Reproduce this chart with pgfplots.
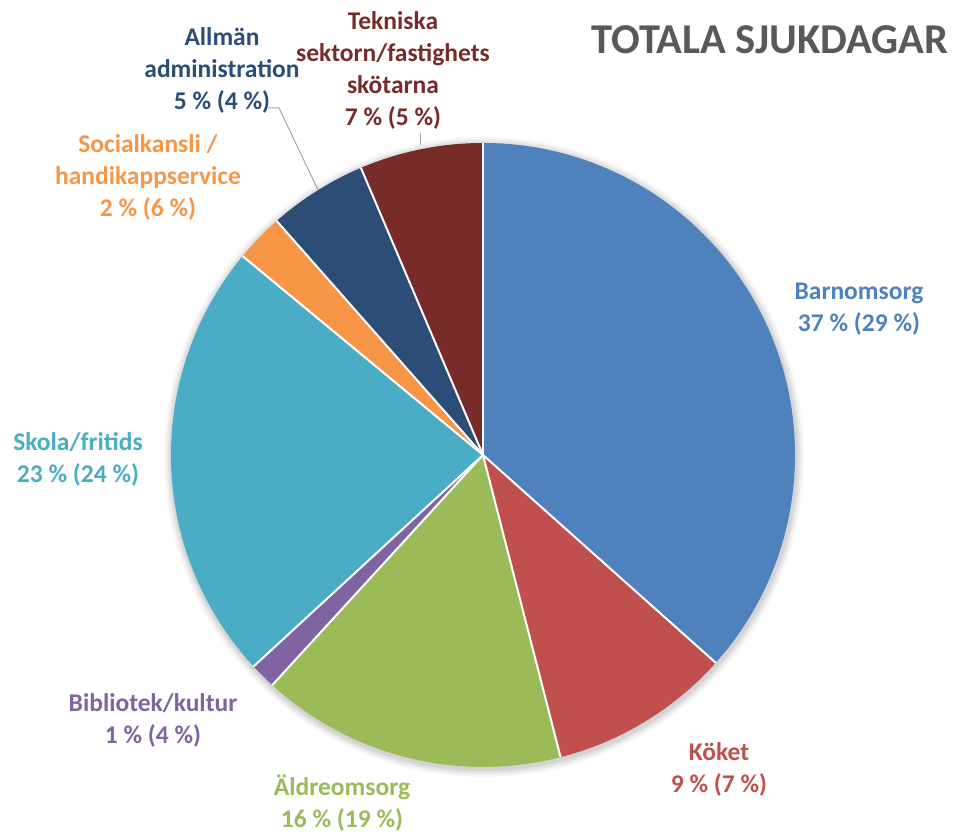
\documentclass[border=0pt]{standalone}
\usepackage{pgfplots}
\pgfplotsset{compat=1.18}
\usepackage{fontspec}
\setmainfont{Carlito}
\definecolor{cBarn}{HTML}{4F81BD}
\definecolor{cKok}{HTML}{C0504D}
\definecolor{cAld}{HTML}{9BBB59}
\definecolor{cBib}{HTML}{8064A2}
\definecolor{cSko}{HTML}{4BACC6}
\definecolor{cSoc}{HTML}{F79646}
\definecolor{cAll}{HTML}{2C4D75}
\definecolor{cTek}{HTML}{772C2A}
\definecolor{cTitle}{HTML}{595959}
\definecolor{cLead}{HTML}{A6A6A6}
\tikzset{lbl/.style={font=\fontsize{25.5bp}{32bp}\selectfont\bfseries,align=center,inner sep=0pt}}
\xdef\startp{0}
\newcommand\slice[2]{%
  \pgfmathsetmacro\endp{\startp+#1}%
  \edef\temp{\noexpand\fill[#2] (axis cs:483,379) -- ++({90-3.6*\startp}:312bp) arc[start angle={90-3.6*\startp}, end angle={90-3.6*\endp}, radius=312bp] -- cycle;}%
  \temp
  \xdef\startp{\endp}}
\xdef\bstart{0}
\newcommand\border[1]{%
  \pgfmathsetmacro\bend{\bstart+#1}%
  \edef\temp{\noexpand\draw[white,line width=2bp] (axis cs:483,379) -- ++({90-3.6*\bstart}:312bp);}%
  \temp
  \xdef\bstart{\bend}}
\begin{document}
\begin{tikzpicture}
\begin{axis}[x=1bp,y=1bp,xmin=0,xmax=954,ymin=0,ymax=834,hide axis,scale only axis,clip=false]
\addplot[draw=none] coordinates {(0,0) (954,834)};
% soft shadow
\fill[black,opacity=0.03] (axis cs:484,377) circle[radius=320bp];
\fill[black,opacity=0.04] (axis cs:484,377) circle[radius=318bp];
\fill[black,opacity=0.05] (axis cs:484,377) circle[radius=316bp];
\fill[black,opacity=0.06] (axis cs:484,377) circle[radius=314bp];
% shares in percent, clockwise from top
\slice{36.6}{cBarn}
\slice{9.4}{cKok}
\slice{15.8}{cAld}
\slice{1.35}{cBib}
\slice{22.85}{cSko}
\slice{2.5}{cSoc}
\slice{5.1}{cAll}
\slice{6.4}{cTek}
\border{36.6}\border{9.4}\border{15.8}\border{1.35}\border{22.85}\border{2.5}\border{5.1}\border{6.4}
% leader lines
\addplot[cLead,line width=1bp,no marks] coordinates {(268,726) (279,726) (318,644)};
\addplot[cLead,line width=1bp,no marks] coordinates {(420,701) (420,689)};
% labels
\node[lbl,text=cBarn] at (axis cs:859,525) {Barnomsorg\\37 \% (29 \%)};
\node[lbl,text=cKok] at (axis cs:719,65) {Köket\\9 \% (7 \%)};
\node[lbl,text=cAld] at (axis cs:342,31) {Äldreomsorg\\16 \% (19 \%)};
\node[lbl,text=cBib] at (axis cs:153,114) {Bibliotek/kultur\\1 \% (4 \%)};
\node[lbl,text=cSko] at (axis cs:78,375) {Skola/fritids\\23 \% (24 \%)};
\node[lbl,text=cSoc] at (axis cs:148,657) {Socialkansli /\\handikappservice\\2 \% (6 \%)};
\node[lbl,text=cAll] at (axis cs:222,764) {Allmän\\administration\\5 \% (4 \%)};
\node[lbl,text=cTek] at (axis cs:393,764) {Tekniska\\sektorn/fastighets\\skötarna\\7 \% (5 \%)};
\node[lbl,text=cTitle,font=\fontsize{42.5bp}{48bp}\selectfont\bfseries] at (axis cs:770,794) {TOTALA SJUKDAGAR};
\end{axis}
\end{tikzpicture}
\end{document}
